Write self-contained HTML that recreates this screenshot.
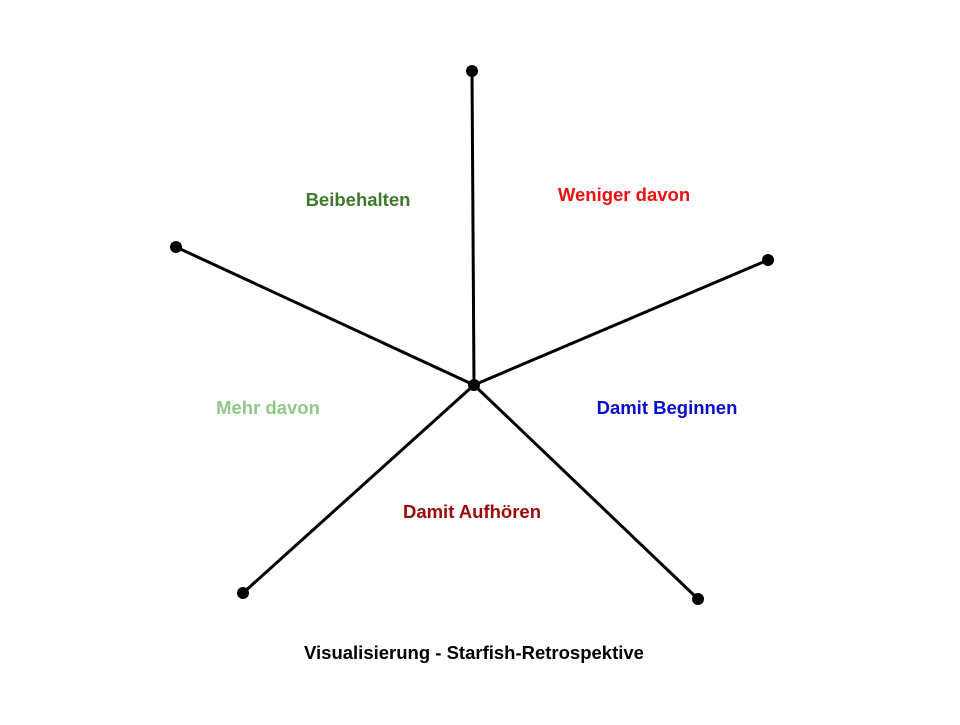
<!DOCTYPE html>
<html><head><meta charset="utf-8"><style>html,body{margin:0;padding:0;background:#fff}</style></head>
<body>
<svg width="960" height="720" viewBox="0 0 960 720" xmlns="http://www.w3.org/2000/svg" font-family="Liberation Sans, sans-serif" font-weight="bold" font-size="18.5">
<rect width="960" height="720" fill="#fff"/>
<g stroke="#000" stroke-width="3" stroke-linecap="round">
<line x1="474" y1="385" x2="472" y2="71"/>
<line x1="474" y1="385" x2="176" y2="247"/>
<line x1="474" y1="385" x2="768" y2="260"/>
<line x1="474" y1="385" x2="243" y2="593"/>
<line x1="474" y1="385" x2="698" y2="599"/>
</g>
<g fill="#000">
<circle cx="474" cy="385" r="6"/>
<circle cx="472" cy="71" r="6"/>
<circle cx="176" cy="247" r="6"/>
<circle cx="768" cy="260" r="6"/>
<circle cx="243" cy="593" r="6"/>
<circle cx="698" cy="599" r="6"/>
</g>
<g text-anchor="middle">
<text x="358" y="206" fill="#3d7a2c">Beibehalten</text>
<text x="624" y="201" fill="#ee1111">Weniger davon</text>
<text x="268" y="414" fill="#90c885">Mehr davon</text>
<text x="667" y="414" fill="#0b0bd0">Damit Beginnen</text>
<text x="472" y="518" fill="#9a0a0a">Damit Aufhören</text>
<text x="474" y="659" fill="#000">Visualisierung - Starfish-Retrospektive</text>
</g>
</svg>
</body></html>
